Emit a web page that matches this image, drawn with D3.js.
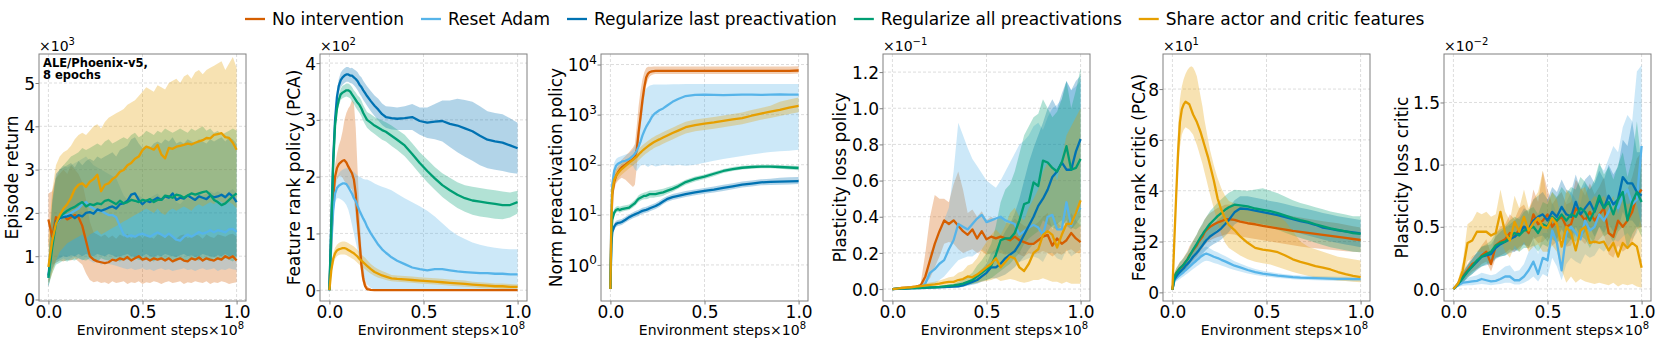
<!DOCTYPE html>
<html><head><meta charset="utf-8">
<script src="https://cdn.jsdelivr.net/npm/d3@7"></script>
<style>body{margin:0;background:#fff}text{font-family:"DejaVu Sans",sans-serif;fill:#000}</style>
</head><body><svg id="chart" width="1661" height="342"></svg>
<script>
const seriesNames=["No intervention","Reset Adam","Regularize last preactivation","Regularize all preactivations","Share actor and critic features"];
const seriesColors=["#d55e00","#56b4e9","#0072b2","#009e73","#e69f00"];
const yLabels=["Episode return","Feature rank policy (PCA)","Norm preactivation policy","Plasticity loss policy","Feature rank critic (PCA)","Plasticity loss critic"];
const xLabel="Environment steps";
const xTicks=[0,0.5,1.0];
const epTicks=[0,1,2,3,4,5];
const prTicks=[0,1,2,3,4];
const npTicks=[1,10,100,1000,10000];
const plTicks=[0,0.2,0.4,0.6,0.8,1.0,1.2];
const crTicks=[0,2,4,6,8];
const pcTicks=[0,0.5,1.0,1.5];

// Panel 1: Episode return (x10^3)
const epX=[0,0.02,0.04,0.06,0.08,0.1,0.12,0.14,0.16,0.18,0.2,0.22,0.24,0.26,0.28,0.3,0.32,0.34,0.36,0.38,0.4,0.42,0.44,0.46,0.48,0.5,0.52,0.54,0.56,0.58,0.6,0.62,0.64,0.66,0.68,0.7,0.72,0.74,0.76,0.78,0.8,0.82,0.84,0.86,0.88,0.9,0.92,0.94,0.96,0.98,1.0];
const epNoInt=[1.85,1.45,1.9,1.85,1.95,1.85,1.9,1.95,1.9,1.7,1.35,1.0,0.92,0.88,0.86,0.84,0.86,0.92,0.9,0.95,0.92,0.98,0.9,0.95,1.0,0.92,0.95,0.9,0.95,0.92,0.95,0.9,0.95,0.88,0.92,0.95,0.9,0.88,0.95,0.92,0.97,0.9,0.95,0.92,0.9,0.95,0.92,1.0,0.95,1.0,0.9];
const epNoIntLo=[1.3,0.8,0.85,0.9,0.88,0.92,0.9,0.95,0.88,0.8,0.6,0.45,0.4,0.42,0.38,0.4,0.36,0.42,0.38,0.4,0.42,0.36,0.4,0.38,0.42,0.36,0.4,0.38,0.42,0.4,0.36,0.4,0.42,0.38,0.4,0.42,0.36,0.4,0.38,0.42,0.4,0.38,0.42,0.36,0.4,0.38,0.42,0.4,0.36,0.38,0.4];
const epNoIntHi=[2.45,2.5,2.8,2.9,3.0,2.9,3.1,3.0,2.9,2.7,2.3,1.8,1.55,1.5,1.45,1.5,1.42,1.48,1.4,1.5,1.45,1.52,1.4,1.48,1.5,1.42,1.5,1.45,1.4,1.5,1.48,1.42,1.5,1.45,1.4,1.48,1.5,1.42,1.45,1.5,1.48,1.4,1.5,1.45,1.42,1.5,1.48,1.45,1.5,1.52,1.45];
const epReset=[0.5,1.3,1.75,1.85,1.95,1.95,2.0,2.05,2.1,2.2,2.25,2.15,2.1,2.05,2.05,2.0,1.95,1.95,1.9,1.7,1.5,1.45,1.48,1.45,1.5,1.52,1.48,1.45,1.5,1.55,1.5,1.45,1.52,1.45,1.38,1.36,1.45,1.5,1.45,1.5,1.56,1.52,1.55,1.6,1.55,1.6,1.58,1.55,1.62,1.63,1.56];
const epResetLo=[0.3,0.7,0.85,0.9,0.95,0.9,0.95,1.0,0.95,0.9,0.95,0.9,0.85,0.88,0.8,0.85,0.82,0.8,0.78,0.75,0.72,0.7,0.72,0.68,0.7,0.72,0.68,0.7,0.66,0.7,0.72,0.68,0.7,0.66,0.68,0.7,0.72,0.68,0.7,0.66,0.7,0.72,0.68,0.7,0.72,0.66,0.7,0.68,0.72,0.7,0.68];
const epResetHi=[0.9,2.2,2.9,3.0,3.1,3.05,3.1,3.15,3.2,3.25,3.3,3.2,3.1,3.05,3.0,2.95,2.9,2.85,2.8,2.6,2.4,2.3,2.35,2.3,2.4,2.35,2.3,2.35,2.4,2.45,2.35,2.3,2.4,2.35,2.25,2.2,2.3,2.35,2.3,2.4,2.45,2.4,2.45,2.5,2.45,2.5,2.45,2.4,2.5,2.55,2.45];
const epLast=[0.55,1.3,1.8,1.88,1.9,1.92,1.95,1.88,1.95,1.92,2.0,2.02,1.98,2.08,2.05,2.08,2.12,2.15,2.1,2.2,2.22,2.28,2.42,2.45,2.3,2.2,2.28,2.25,2.3,2.35,2.3,2.38,2.35,2.45,2.3,2.35,2.33,2.4,2.35,2.3,2.38,2.35,2.32,2.4,2.36,2.38,2.42,2.36,2.45,2.38,2.25];
const epLastLo=[0.3,0.7,0.9,0.95,1.0,0.98,1.02,1.0,1.05,1.0,1.05,1.02,1.0,1.05,1.02,1.0,1.05,1.02,0.98,1.0,1.02,1.05,1.0,0.98,1.02,1.0,1.05,1.0,0.98,1.02,1.0,1.05,1.02,1.0,0.98,1.02,1.05,1.0,1.02,0.98,1.0,1.05,1.02,1.0,0.98,1.02,1.0,1.05,1.0,1.02,1.0];
const epLastHi=[0.9,2.3,2.9,3.0,3.05,3.1,3.15,3.05,3.2,3.1,3.2,3.25,3.2,3.3,3.25,3.3,3.35,3.4,3.3,3.45,3.5,3.55,3.7,3.75,3.6,3.5,3.55,3.5,3.6,3.65,3.6,3.7,3.65,3.75,3.6,3.65,3.6,3.7,3.65,3.6,3.7,3.65,3.6,3.7,3.65,3.7,3.75,3.65,3.75,3.7,3.6];
const epAll=[0.5,1.2,1.75,1.9,1.98,2.05,2.1,2.14,2.2,2.25,2.15,2.2,2.18,2.22,2.2,2.28,2.3,2.25,2.2,2.28,2.22,2.25,2.3,2.28,2.25,2.3,2.28,2.32,2.25,2.3,2.3,2.4,2.38,2.35,2.42,2.4,2.35,2.4,2.45,2.42,2.45,2.48,2.5,2.42,2.3,2.25,2.18,2.22,2.3,2.38,2.45];
const epAllLo=[0.3,0.6,0.8,0.85,0.9,0.88,0.92,0.9,0.95,0.92,0.9,0.95,0.92,0.88,0.95,0.92,0.9,0.95,0.92,0.88,0.95,0.92,0.9,0.95,0.92,0.9,0.95,0.92,0.88,0.95,0.92,0.9,0.95,0.92,0.88,0.95,0.92,0.9,0.95,0.92,0.9,0.95,0.92,0.88,0.95,0.92,0.9,0.95,0.92,0.88,0.95];
const epAllHi=[0.9,2.2,2.8,3.0,3.1,3.2,3.3,3.35,3.4,3.5,3.45,3.5,3.55,3.6,3.55,3.65,3.7,3.6,3.65,3.7,3.75,3.7,3.8,3.85,3.75,3.8,3.9,3.85,3.8,3.9,3.85,3.95,3.9,3.85,3.9,3.95,3.9,3.85,3.95,3.9,3.95,4.0,3.9,3.95,3.85,3.9,3.8,3.85,3.9,3.95,3.9];
const epShare=[0.75,1.35,1.75,1.95,2.1,2.2,2.35,2.55,2.65,2.68,2.6,2.72,2.78,2.88,2.5,2.65,2.68,2.78,2.84,2.95,2.99,3.1,3.15,3.25,3.3,3.45,3.53,3.5,3.46,3.57,3.35,3.26,3.5,3.48,3.53,3.55,3.57,3.6,3.58,3.62,3.65,3.68,3.73,3.72,3.8,3.82,3.84,3.75,3.73,3.62,3.46];
const epShareLo=[0.35,0.6,0.9,1.1,1.2,1.3,1.35,1.4,1.45,1.5,1.4,1.5,1.55,1.6,1.5,1.55,1.6,1.65,1.7,1.75,1.8,1.85,1.9,1.95,2.0,2.05,2.1,2.05,2.0,2.1,2.0,1.95,2.05,2.1,2.05,2.1,2.15,2.1,2.05,2.15,2.2,2.15,2.2,2.25,2.2,2.3,2.25,2.2,2.25,2.2,2.1];
const epShareHi=[1.4,2.5,3.1,3.3,3.4,3.45,3.55,3.7,3.8,3.85,3.8,3.9,4.0,4.05,3.95,4.1,4.2,4.25,4.3,4.35,4.4,4.5,4.55,4.6,4.7,4.8,4.9,4.85,4.8,4.95,4.9,4.85,5.0,5.05,5.1,5.0,5.15,5.2,5.1,5.25,5.3,5.2,5.3,5.35,5.4,5.45,5.5,5.3,5.45,5.6,5.35];

// Panels 2 and 5 share this x grid
const rankX=[0,0.01,0.02,0.03,0.04,0.05,0.06,0.07,0.08,0.09,0.1,0.11,0.12,0.13,0.14,0.15,0.16,0.17,0.18,0.19,0.2,0.22,0.24,0.26,0.28,0.3,0.33,0.36,0.4,0.44,0.48,0.52,0.56,0.6,0.64,0.68,0.72,0.76,0.8,0.84,0.88,0.92,0.96,1.0];
// Panel 2: Feature rank policy (x10^2)
const prNoInt=[0,0.9,1.6,2.0,2.15,2.22,2.25,2.28,2.29,2.25,2.18,2.12,2.06,1.95,1.7,1.25,0.85,0.45,0.2,0.07,0.02,0.005,0,0,0,0,0,0,0,0,0,0,0,0,0,0,0,0,0,0,0,0,0,0];
const prNoIntLo=[0,0.8,1.45,1.8,1.95,2.0,2.02,1.98,1.92,1.88,1.84,1.8,1.78,1.6,1.3,0.95,0.55,0.25,0.1,0.03,0,0,0,0,0,0,0,0,0,0,0,0,0,0,0,0,0,0,0,0,0,0,0,0];
const prNoIntHi=[0,1.0,1.75,2.2,2.4,2.55,2.65,2.8,3.0,3.12,3.2,3.25,3.35,3.3,2.85,2.1,1.35,0.75,0.4,0.18,0.08,0.02,0,0,0,0,0,0,0,0,0,0,0,0,0,0,0,0,0,0,0,0,0,0];
const prReset=[0,0.8,1.4,1.7,1.8,1.84,1.86,1.88,1.88,1.87,1.82,1.76,1.7,1.62,1.57,1.48,1.4,1.33,1.26,1.2,1.12,1.0,0.9,0.8,0.72,0.66,0.58,0.52,0.46,0.4,0.37,0.35,0.37,0.37,0.35,0.33,0.32,0.31,0.3,0.3,0.29,0.29,0.28,0.28];
const prResetLo=[0,0.7,1.25,1.55,1.62,1.62,1.6,1.58,1.55,1.5,1.42,1.3,1.15,1.0,0.85,0.7,0.55,0.4,0.28,0.18,0.1,0.04,0.01,0,0,0,0,0,0,0,0,0,0,0,0,0,0,0,0,0,0,0,0,0];
const prResetHi=[0,0.9,1.55,1.85,1.98,2.05,2.1,2.12,2.14,2.15,2.15,2.12,2.1,2.08,2.05,2.02,2.0,1.98,1.96,1.95,1.95,1.92,1.88,1.85,1.82,1.8,1.76,1.7,1.62,1.55,1.48,1.4,1.3,1.18,1.06,0.97,0.9,0.84,0.8,0.77,0.75,0.73,0.72,0.72];
const prLast=[0,1.2,2.3,3.0,3.4,3.6,3.7,3.75,3.78,3.8,3.8,3.78,3.78,3.75,3.72,3.68,3.62,3.58,3.52,3.47,3.42,3.33,3.25,3.18,3.1,3.05,3.03,3.02,3.03,3.05,2.98,2.95,2.97,2.98,2.93,2.9,2.85,2.8,2.72,2.65,2.62,2.6,2.55,2.5];
const prLastLo=[0,1.1,2.2,2.88,3.28,3.48,3.57,3.62,3.65,3.67,3.67,3.65,3.64,3.61,3.57,3.52,3.46,3.41,3.35,3.3,3.25,3.15,3.07,2.99,2.91,2.86,2.83,2.82,2.82,2.82,2.74,2.68,2.66,2.62,2.52,2.43,2.35,2.28,2.2,2.15,2.12,2.1,2.07,2.05];
const prLastHi=[0,1.3,2.4,3.12,3.52,3.72,3.83,3.88,3.91,3.93,3.93,3.91,3.92,3.89,3.87,3.84,3.78,3.75,3.69,3.64,3.59,3.51,3.43,3.37,3.29,3.24,3.23,3.22,3.24,3.28,3.22,3.22,3.28,3.34,3.34,3.37,3.35,3.32,3.24,3.15,3.12,3.1,3.03,2.95];
const prAll=[0,1.1,2.2,2.9,3.2,3.35,3.45,3.48,3.5,3.52,3.52,3.5,3.45,3.4,3.35,3.3,3.26,3.2,3.12,3.06,3.0,2.95,2.9,2.86,2.82,2.79,2.72,2.65,2.55,2.4,2.24,2.1,1.97,1.85,1.76,1.68,1.62,1.58,1.56,1.54,1.52,1.5,1.5,1.55];
const prAllLo=[0,1.0,2.1,2.8,3.1,3.25,3.35,3.38,3.4,3.41,3.4,3.38,3.33,3.28,3.22,3.17,3.12,3.06,2.98,2.92,2.86,2.8,2.75,2.7,2.65,2.62,2.54,2.47,2.36,2.21,2.05,1.9,1.77,1.64,1.54,1.45,1.38,1.33,1.3,1.28,1.26,1.25,1.28,1.35];
const prAllHi=[0,1.2,2.3,3.0,3.3,3.45,3.55,3.6,3.62,3.64,3.64,3.62,3.58,3.52,3.48,3.43,3.4,3.34,3.26,3.2,3.14,3.1,3.05,3.02,2.99,2.96,2.9,2.83,2.74,2.59,2.43,2.3,2.17,2.06,1.98,1.9,1.85,1.82,1.8,1.78,1.76,1.74,1.72,1.75];
const prShare=[0,0.35,0.55,0.65,0.7,0.72,0.73,0.74,0.74,0.73,0.71,0.69,0.67,0.65,0.62,0.59,0.55,0.52,0.49,0.46,0.43,0.37,0.32,0.29,0.26,0.24,0.21,0.2,0.19,0.18,0.17,0.16,0.15,0.14,0.13,0.12,0.11,0.1,0.09,0.08,0.07,0.07,0.06,0.06];
const prShareLo=[0,0.28,0.45,0.55,0.6,0.62,0.63,0.63,0.63,0.62,0.6,0.58,0.56,0.54,0.51,0.48,0.45,0.42,0.39,0.37,0.34,0.29,0.25,0.22,0.2,0.18,0.16,0.15,0.14,0.13,0.12,0.11,0.1,0.09,0.08,0.07,0.06,0.05,0.04,0.03,0.03,0.02,0.02,0.02];
const prShareHi=[0,0.42,0.65,0.75,0.8,0.83,0.85,0.86,0.86,0.85,0.83,0.81,0.79,0.77,0.74,0.71,0.67,0.63,0.6,0.57,0.53,0.46,0.41,0.37,0.34,0.31,0.27,0.26,0.25,0.24,0.23,0.22,0.21,0.2,0.19,0.18,0.17,0.15,0.14,0.13,0.12,0.12,0.11,0.1];

// Panel 3: Norm preactivation policy (log)
const npX=[0,0.005,0.01,0.02,0.03,0.04,0.05,0.06,0.08,0.1,0.12,0.13,0.14,0.15,0.16,0.17,0.18,0.19,0.2,0.21,0.22,0.23,0.24,0.26,0.28,0.3,0.33,0.36,0.4,0.45,0.5,0.55,0.6,0.65,0.7,0.75,0.8,0.85,0.9,0.95,1.0];
const npNoInt=[0.33,6,25,45,60,70,80,88,100,115,130,145,200,450,900,1900,3500,5500,6600,7100,7300,7400,7500,7500,7500,7500,7500,7500,7500,7500,7500,7500,7500,7500,7500,7500,7500,7500,7500,7500,7600];
const npNoIntLo=[0.33,4,18,32,42,48,52,55,50,42,36,40,90,250,550,1100,2200,3800,5000,5800,6200,6400,6500,6500,6500,6500,6500,6500,6500,6500,6500,6500,6500,6500,6500,6500,6500,6500,6500,6500,6600];
const npNoIntHi=[0.33,10,35,60,80,95,110,125,150,180,220,260,600,1500,3000,5000,7000,8500,9000,9000,9000,9100,9100,9100,9100,9100,9100,9100,9100,9100,9100,9100,9100,9100,9100,9100,9100,9100,9100,9100,9200];
const npReset=[0.33,10,40,75,95,105,110,115,120,130,150,165,190,230,290,380,470,570,660,760,900,1000,1080,1220,1330,1500,1800,2050,2350,2480,2500,2480,2450,2470,2500,2500,2480,2500,2520,2500,2500];
const npResetLo=[0.33,6,25,50,70,80,85,90,95,100,95,80,75,85,95,100,100,95,90,95,100,95,92,95,100,100,95,100,95,100,110,120,130,140,150,160,170,180,185,190,200];
const npResetHi=[0.33,14,60,110,130,140,145,150,160,170,200,230,300,600,1200,2000,2800,3300,3600,3800,3900,4000,4000,4000,4000,4000,4050,4050,4100,4100,4100,4100,4100,4100,4100,4100,4100,4100,4100,4100,4100];
const npLast=[0.33,2.5,4.5,5.8,6.6,6.9,7,7.2,8,9,9.8,10.2,10.6,11,11.5,12,12.3,12.6,13,13.5,14,14.5,15,16.5,18.5,20.5,22.5,24,26,28,30,32,34.5,37,40,42,44.5,45.5,46,46.5,47];
const npLastLo=[0.33,2,3.8,5,5.7,6,6.1,6.3,7,7.8,8.5,8.8,9.2,9.5,10,10.4,10.7,11,11.3,11.8,12.2,12.6,13,14.4,16.2,18,19.8,21,22.8,24.5,26.2,28,30,32.5,35,36.8,38.8,39.5,40,40.5,41];
const npLastHi=[0.33,3,5.2,6.7,7.6,7.9,8.1,8.3,9.2,10.3,11.3,11.8,12.2,12.7,13.2,13.8,14.2,14.5,15,15.5,16.1,16.7,17.3,19,21.3,23.6,25.9,27.6,29.9,32.2,34.5,36.8,39.7,42.5,46,48.3,51.2,52.3,55,56,57];
const npAll=[0.33,4,8,11,12.5,13,12.5,13,13.5,14,16,17,19,21,22,23,24,24,25,26,26,26,26,27,28,30,33,37,45,52,58,66,75,82,87,90,92,92,90,88,86];
const npAllLo=[0.33,3,7,9.5,11,11.5,11,11.5,12,12.5,14,15,16.5,18,19,20,20.5,20.5,21,22,22,22,22.5,23,24,26,29,33,40,46,52,59,68,75,80,83,85,85,83,80,78];
const npAllHi=[0.33,5,9.5,13,14.5,15,14.5,15,15.5,16,18.5,20,22,24.5,26,27,28,28.5,29.5,30.5,30.5,30.5,31,32,33,35,38,42,50,58,64,72,82,90,95,98,100,100,98,96,94];
const npShare=[0.33,8,30,50,60,68,75,82,95,110,125,135,145,160,175,190,205,220,235,250,265,280,295,320,350,380,430,480,560,620,660,700,750,800,850,950,1050,1150,1250,1380,1500];
const npShareLo=[0.33,5,20,36,45,52,58,63,73,85,96,104,111,122,133,145,156,167,178,190,200,212,222,240,262,285,320,360,420,465,495,525,560,600,640,710,790,860,940,1030,1120];
const npShareHi=[0.33,12,42,68,80,88,96,105,122,140,160,172,185,205,225,245,262,282,300,320,340,358,378,410,450,490,550,620,720,800,850,900,960,1030,1100,1230,1360,1500,1800,2000,2200];

// Panels 4 and 6 share this x grid
const plX=[0,0.025,0.05,0.075,0.1,0.125,0.15,0.175,0.2,0.225,0.25,0.275,0.3,0.325,0.35,0.375,0.4,0.425,0.45,0.475,0.5,0.525,0.55,0.575,0.6,0.625,0.65,0.675,0.7,0.725,0.75,0.775,0.8,0.825,0.85,0.875,0.9,0.925,0.95,0.975,1.0];
// Panel 4: Plasticity loss policy (x10^-1)
const plNoInt=[0,0.003,0.006,0.008,0.01,0.014,0.02,0.07,0.16,0.25,0.32,0.38,0.36,0.38,0.35,0.32,0.3,0.33,0.28,0.32,0.275,0.29,0.28,0.29,0.28,0.27,0.29,0.27,0.26,0.25,0.25,0.27,0.29,0.3,0.24,0.28,0.25,0.27,0.31,0.28,0.26];
const plNoIntLo=[0,0.002,0.004,0.005,0.007,0.01,0.013,0.03,0.06,0.12,0.18,0.25,0.26,0.25,0.22,0.2,0.21,0.22,0.2,0.21,0.19,0.2,0.21,0.2,0.19,0.2,0.21,0.19,0.18,0.2,0.19,0.2,0.21,0.2,0.18,0.2,0.19,0.21,0.22,0.2,0.2];
const plNoIntHi=[0,0.005,0.008,0.011,0.014,0.018,0.03,0.2,0.4,0.52,0.5,0.5,0.48,0.58,0.65,0.55,0.42,0.44,0.4,0.43,0.38,0.4,0.38,0.4,0.37,0.36,0.39,0.37,0.35,0.34,0.35,0.37,0.4,0.42,0.33,0.37,0.34,0.36,0.42,0.38,0.35];
const plReset=[0,0.002,0.004,0.006,0.008,0.01,0.012,0.03,0.09,0.11,0.14,0.16,0.22,0.27,0.36,0.345,0.33,0.36,0.39,0.41,0.37,0.38,0.39,0.4,0.38,0.37,0.36,0.3,0.32,0.34,0.355,0.34,0.3,0.4,0.41,0.33,0.33,0.48,0.35,0.42,0.45];
const plResetLo=[0,0.001,0.002,0.003,0.004,0.005,0.006,0.01,0.02,0.03,0.05,0.07,0.1,0.13,0.16,0.17,0.18,0.18,0.2,0.22,0.2,0.19,0.2,0.22,0.2,0.18,0.17,0.15,0.16,0.17,0.18,0.17,0.15,0.2,0.2,0.17,0.16,0.22,0.18,0.2,0.22];
const plResetHi=[0,0.003,0.006,0.009,0.012,0.015,0.02,0.06,0.2,0.25,0.3,0.38,0.45,0.65,0.92,0.85,0.78,0.72,0.68,0.64,0.6,0.58,0.56,0.6,0.65,0.7,0.75,0.8,0.82,0.85,0.9,0.92,0.88,0.95,1.0,1.02,1.05,1.15,1.1,1.12,1.15];
const plLast=[0,0.001,0.002,0.003,0.004,0.005,0.006,0.007,0.008,0.009,0.01,0.011,0.012,0.013,0.015,0.02,0.03,0.04,0.05,0.07,0.09,0.12,0.12,0.14,0.17,0.19,0.21,0.25,0.3,0.35,0.4,0.46,0.5,0.55,0.62,0.65,0.7,0.66,0.66,0.76,0.83];
const plLastLo=[0,0.0005,0.001,0.002,0.002,0.003,0.004,0.004,0.005,0.005,0.006,0.007,0.007,0.008,0.009,0.012,0.018,0.024,0.03,0.04,0.05,0.06,0.06,0.07,0.08,0.1,0.12,0.15,0.18,0.22,0.25,0.28,0.3,0.32,0.35,0.36,0.38,0.35,0.33,0.36,0.4];
const plLastHi=[0,0.002,0.003,0.004,0.006,0.007,0.008,0.01,0.011,0.013,0.014,0.015,0.017,0.019,0.022,0.03,0.045,0.06,0.08,0.11,0.14,0.2,0.22,0.27,0.32,0.36,0.42,0.5,0.6,0.7,0.78,0.85,0.92,1.0,1.05,1.0,1.08,1.15,1.1,1.15,1.18];
const plAll=[0,0.002,0.003,0.004,0.005,0.006,0.007,0.008,0.009,0.01,0.012,0.015,0.018,0.02,0.025,0.03,0.04,0.05,0.07,0.09,0.11,0.13,0.19,0.27,0.28,0.28,0.31,0.38,0.47,0.48,0.59,0.57,0.71,0.7,0.67,0.65,0.7,0.79,0.66,0.67,0.72];
const plAllLo=[0,0.001,0.002,0.003,0.003,0.004,0.005,0.005,0.006,0.007,0.008,0.01,0.012,0.013,0.015,0.018,0.022,0.028,0.035,0.045,0.05,0.06,0.08,0.1,0.12,0.14,0.17,0.2,0.25,0.28,0.3,0.32,0.38,0.36,0.34,0.33,0.35,0.38,0.34,0.33,0.35];
const plAllHi=[0,0.003,0.004,0.005,0.007,0.008,0.009,0.011,0.012,0.014,0.016,0.02,0.025,0.03,0.04,0.05,0.07,0.09,0.13,0.16,0.2,0.25,0.35,0.48,0.55,0.58,0.65,0.75,0.85,0.9,0.95,0.97,1.05,1.0,0.95,0.98,1.05,1.15,1.0,1.1,1.22];
const plShare=[0,0.003,0.006,0.008,0.01,0.013,0.016,0.02,0.023,0.026,0.03,0.035,0.04,0.04,0.05,0.055,0.07,0.065,0.08,0.1,0.12,0.14,0.17,0.12,0.15,0.18,0.17,0.12,0.1,0.14,0.2,0.22,0.3,0.32,0.3,0.23,0.3,0.36,0.36,0.42,0.49];
const plShareLo=[0,0.001,0.002,0.003,0.004,0.005,0.006,0.008,0.01,0.012,0.014,0.016,0.018,0.02,0.022,0.025,0.03,0.03,0.035,0.04,0.045,0.05,0.06,0.045,0.05,0.055,0.05,0.04,0.035,0.04,0.05,0.05,0.06,0.05,0.04,0.04,0.03,0.04,0.03,0.03,0.03];
const plShareHi=[0,0.005,0.01,0.013,0.016,0.02,0.026,0.032,0.036,0.04,0.048,0.055,0.065,0.07,0.09,0.1,0.13,0.14,0.17,0.22,0.26,0.3,0.33,0.3,0.35,0.42,0.45,0.4,0.38,0.45,0.5,0.55,0.65,0.7,0.68,0.6,0.72,0.85,0.9,0.95,1.0];

// Panel 5: Feature rank critic (x10^1)
const crNoInt=[0.1,0.6,0.75,0.85,0.95,1.0,1.1,1.2,1.3,1.45,1.55,1.65,1.75,1.85,2.0,2.1,2.2,2.35,2.45,2.52,2.58,2.67,2.75,2.8,2.87,2.88,2.85,2.78,2.72,2.68,2.62,2.57,2.52,2.47,2.42,2.38,2.34,2.3,2.26,2.22,2.18,2.14,2.1,2.06];
const crNoIntLo=[0.1,0.45,0.55,0.62,0.7,0.75,0.82,0.9,0.98,1.1,1.18,1.26,1.34,1.42,1.55,1.63,1.72,1.85,1.93,2.0,2.05,2.12,2.18,2.22,2.28,2.3,2.28,2.2,2.15,2.1,2.05,2.0,1.95,1.9,1.85,1.8,1.77,1.74,1.71,1.68,1.65,1.62,1.6,1.58];
const crNoIntHi=[0.1,0.75,0.95,1.08,1.2,1.27,1.38,1.5,1.62,1.8,1.92,2.04,2.16,2.28,2.45,2.57,2.68,2.85,2.97,3.05,3.12,3.22,3.32,3.38,3.45,3.46,3.42,3.36,3.3,3.26,3.2,3.14,3.1,3.05,3.0,2.95,2.9,2.85,2.8,2.76,2.72,2.66,2.6,2.55];
const crReset=[0.1,0.45,0.55,0.62,0.68,0.74,0.8,0.87,0.93,1.0,1.07,1.14,1.2,1.27,1.33,1.4,1.45,1.5,1.52,1.5,1.47,1.4,1.35,1.28,1.22,1.15,1.05,0.98,0.88,0.8,0.74,0.7,0.66,0.63,0.6,0.58,0.57,0.56,0.55,0.54,0.53,0.53,0.52,0.52];
const crResetLo=[0.1,0.35,0.43,0.48,0.53,0.58,0.63,0.69,0.74,0.8,0.86,0.92,0.97,1.03,1.08,1.14,1.18,1.22,1.24,1.23,1.21,1.16,1.12,1.06,1.01,0.95,0.88,0.82,0.74,0.68,0.63,0.6,0.57,0.55,0.52,0.5,0.49,0.48,0.47,0.46,0.45,0.45,0.44,0.44];
const crResetHi=[0.1,0.55,0.67,0.76,0.83,0.9,0.97,1.05,1.12,1.2,1.28,1.36,1.43,1.51,1.58,1.66,1.72,1.78,1.8,1.77,1.73,1.64,1.58,1.5,1.43,1.35,1.22,1.14,1.02,0.92,0.85,0.8,0.75,0.71,0.68,0.66,0.65,0.64,0.63,0.62,0.61,0.61,0.6,0.6];
const crLast=[0.1,0.5,0.62,0.72,0.8,0.88,0.95,1.05,1.12,1.2,1.3,1.4,1.48,1.56,1.65,1.75,1.85,1.95,2.05,2.12,2.2,2.3,2.4,2.52,2.68,2.85,3.15,3.3,3.28,3.22,3.16,3.1,3.04,2.96,2.88,2.8,2.74,2.66,2.55,2.5,2.44,2.4,2.36,2.32];
const crLastLo=[0.1,0.4,0.5,0.58,0.65,0.72,0.78,0.86,0.92,0.98,1.06,1.14,1.2,1.27,1.35,1.43,1.52,1.6,1.68,1.74,1.8,1.9,1.98,2.08,2.22,2.38,2.67,2.82,2.8,2.74,2.68,2.62,2.56,2.48,2.4,2.32,2.24,2.16,2.08,2.0,1.94,1.88,1.83,1.78];
const crLastHi=[0.1,0.6,0.75,0.86,0.96,1.05,1.13,1.25,1.33,1.42,1.54,1.66,1.76,1.85,1.96,2.07,2.18,2.3,2.42,2.5,2.6,2.72,2.84,2.97,3.15,3.33,3.62,3.78,3.78,3.72,3.66,3.6,3.55,3.48,3.4,3.33,3.27,3.2,3.12,3.06,3.0,2.95,2.9,2.85];
const crAll=[0.1,0.6,0.75,0.85,0.95,1.02,1.1,1.2,1.3,1.42,1.55,1.68,1.8,1.92,2.05,2.17,2.28,2.4,2.5,2.6,2.7,2.85,3.0,3.12,3.25,3.35,3.45,3.42,3.38,3.3,3.25,3.2,3.12,3.02,2.92,2.84,2.77,2.68,2.6,2.52,2.46,2.4,2.33,2.3];
const crAllLo=[0.1,0.45,0.57,0.65,0.72,0.78,0.85,0.93,1.02,1.12,1.23,1.34,1.44,1.54,1.65,1.75,1.84,1.94,2.03,2.12,2.2,2.34,2.47,2.58,2.7,2.78,2.86,2.82,2.76,2.68,2.62,2.55,2.46,2.35,2.24,2.14,2.05,1.95,1.86,1.78,1.72,1.66,1.6,1.58];
const crAllHi=[0.1,0.75,0.93,1.05,1.18,1.26,1.35,1.47,1.58,1.72,1.87,2.02,2.16,2.3,2.45,2.59,2.72,2.86,2.97,3.08,3.2,3.36,3.53,3.66,3.8,3.92,4.04,4.02,4.0,4.05,4.1,4.0,3.9,3.76,3.62,3.52,3.44,3.35,3.27,3.18,3.12,3.06,3.0,3.0];
const crShare=[0.1,2.0,3.8,5.5,6.7,7.2,7.4,7.5,7.45,7.4,7.2,7.0,6.85,6.7,6.5,6.3,6.05,5.8,5.55,5.3,5.0,4.4,3.7,3.25,2.9,2.65,2.45,2.2,1.95,1.75,1.68,1.64,1.58,1.45,1.3,1.2,1.12,1.03,0.97,0.9,0.8,0.72,0.65,0.6];
const crShareLo=[0.1,1.5,3.3,4.8,5.7,6.2,6.4,6.5,6.45,6.4,6.3,6.2,6.0,5.8,5.55,5.3,5.05,4.75,4.45,4.15,3.85,3.3,2.75,2.3,1.95,1.75,1.6,1.45,1.3,1.2,1.15,1.1,1.0,0.9,0.8,0.72,0.65,0.58,0.53,0.5,0.47,0.45,0.42,0.4];
const crShareHi=[0.1,2.1,4.5,6.5,7.6,8.1,8.4,8.6,8.75,8.85,8.9,8.85,8.7,8.5,8.1,7.7,7.3,6.8,6.4,6.0,5.6,5.0,4.5,4.1,3.8,3.6,3.5,3.4,3.35,3.3,3.2,3.1,3.0,2.8,2.4,2.0,1.8,1.7,1.6,1.5,1.4,1.35,1.3,1.25];

// Panel 6: Plasticity loss critic (x10^-2)
const pcNoInt=[0,0.04,0.1,0.15,0.2,0.22,0.27,0.3,0.2,0.35,0.38,0.4,0.45,0.42,0.48,0.5,0.45,0.6,0.52,0.55,0.6,0.5,0.55,0.58,0.5,0.52,0.65,0.6,0.55,0.62,0.55,0.6,0.65,0.45,0.42,0.55,0.5,0.55,0.62,0.75,0.8];
const pcNoIntLo=[0,0.02,0.06,0.1,0.14,0.16,0.2,0.22,0.14,0.25,0.27,0.29,0.32,0.3,0.34,0.36,0.32,0.42,0.37,0.38,0.42,0.35,0.38,0.4,0.34,0.35,0.45,0.4,0.36,0.42,0.36,0.4,0.44,0.28,0.25,0.35,0.3,0.33,0.38,0.48,0.5];
const pcNoIntHi=[0,0.06,0.14,0.2,0.26,0.29,0.35,0.4,0.28,0.45,0.5,0.52,0.6,0.56,0.65,0.68,0.6,0.8,0.7,0.95,0.8,0.68,0.74,0.78,0.68,0.7,0.88,0.82,0.75,0.85,0.76,0.82,0.9,0.65,0.62,0.78,0.72,0.8,0.9,1.05,1.1];
const pcReset=[0,0.03,0.05,0.055,0.06,0.065,0.08,0.07,0.06,0.065,0.08,0.1,0.1,0.07,0.07,0.1,0.15,0.22,0.12,0.25,0.23,0.47,0.37,0.15,0.45,0.5,0.45,0.4,0.55,0.47,0.5,0.6,0.55,0.62,0.7,0.65,0.75,0.8,0.68,0.72,1.15];
const pcResetLo=[0,0.015,0.025,0.03,0.03,0.035,0.04,0.035,0.03,0.035,0.04,0.05,0.05,0.035,0.035,0.05,0.07,0.1,0.06,0.12,0.1,0.25,0.18,0.07,0.2,0.25,0.22,0.2,0.28,0.25,0.27,0.33,0.3,0.35,0.4,0.38,0.42,0.45,0.4,0.45,0.6];
const pcResetHi=[0,0.05,0.08,0.09,0.1,0.11,0.13,0.12,0.11,0.12,0.15,0.18,0.19,0.14,0.15,0.2,0.3,0.4,0.28,0.45,0.45,0.7,0.6,0.35,0.7,0.78,0.72,0.68,0.85,0.8,0.85,1.0,0.95,1.05,1.15,1.1,1.3,1.4,1.35,1.75,1.8];
const pcLast=[0,0.04,0.09,0.14,0.18,0.22,0.26,0.27,0.28,0.33,0.36,0.38,0.4,0.42,0.45,0.5,0.48,0.55,0.58,0.6,0.55,0.62,0.58,0.66,0.6,0.58,0.7,0.6,0.65,0.7,0.62,0.72,0.65,0.75,0.68,0.72,0.9,0.85,0.85,0.78,0.75];
const pcLastLo=[0,0.02,0.05,0.09,0.12,0.15,0.18,0.19,0.2,0.24,0.26,0.27,0.29,0.3,0.32,0.36,0.34,0.4,0.42,0.43,0.38,0.45,0.4,0.48,0.42,0.4,0.5,0.42,0.46,0.5,0.42,0.5,0.45,0.52,0.46,0.48,0.62,0.55,0.55,0.5,0.5];
const pcLastHi=[0,0.06,0.13,0.19,0.24,0.29,0.34,0.35,0.36,0.42,0.46,0.49,0.52,0.55,0.58,0.65,0.62,0.72,0.75,0.78,0.72,0.82,0.78,0.88,0.8,0.78,0.92,0.8,0.88,0.92,0.85,0.95,0.88,1.0,0.92,0.98,1.2,1.15,1.35,1.1,1.1];
const pcAll=[0,0.04,0.09,0.14,0.18,0.23,0.26,0.28,0.3,0.35,0.37,0.38,0.42,0.45,0.43,0.47,0.48,0.5,0.45,0.52,0.5,0.58,0.55,0.6,0.55,0.6,0.58,0.65,0.62,0.55,0.63,0.75,0.65,0.7,0.6,0.72,0.78,0.55,0.7,0.78,0.7];
const pcAllLo=[0,0.02,0.05,0.09,0.12,0.16,0.18,0.2,0.21,0.25,0.26,0.27,0.3,0.32,0.3,0.33,0.33,0.35,0.3,0.36,0.34,0.4,0.37,0.4,0.35,0.4,0.38,0.43,0.4,0.33,0.4,0.5,0.42,0.45,0.37,0.46,0.5,0.32,0.44,0.5,0.42];
const pcAllHi=[0,0.06,0.13,0.19,0.24,0.3,0.34,0.36,0.39,0.45,0.48,0.5,0.55,0.58,0.56,0.62,0.64,0.66,0.6,0.7,0.68,0.78,0.74,0.82,0.77,0.82,0.8,0.9,0.86,0.8,0.88,1.02,0.92,0.98,0.88,1.0,1.1,0.9,1.05,1.35,1.0];
const pcShare=[0,0.045,0.15,0.37,0.39,0.46,0.46,0.46,0.43,0.45,0.62,0.45,0.39,0.54,0.46,0.58,0.47,0.53,0.57,0.5,0.49,0.57,0.52,0.34,0.5,0.45,0.31,0.47,0.5,0.37,0.38,0.37,0.38,0.31,0.37,0.26,0.37,0.33,0.37,0.34,0.17];
const pcShareLo=[0,0.02,0.08,0.22,0.25,0.3,0.3,0.3,0.28,0.3,0.4,0.3,0.25,0.35,0.3,0.38,0.3,0.34,0.36,0.3,0.3,0.35,0.3,0.15,0.05,0.1,0.05,0.08,0.06,0.05,0.04,0.05,0.04,0.03,0.05,0.02,0.04,0.03,0.04,0.02,0.01];
const pcShareHi=[0,0.07,0.22,0.52,0.55,0.62,0.6,0.62,0.58,0.6,0.8,0.62,0.55,0.75,0.65,0.8,0.65,0.72,0.78,0.95,0.7,0.78,0.72,0.55,0.8,0.75,0.6,0.8,0.82,0.7,0.75,0.72,0.75,0.68,0.75,0.6,0.72,0.68,0.7,0.68,0.5];

// ---------- layout ----------
const svg=d3.select("#chart");
const W=207, TOP=54, BOT=301;
const lefts=[39,320,601,883,1163,1444];
const ylabX=[12,294,555.5,840,1138.5,1401.5];
const f1=d3.format(".1f"), fd=d3.format("d");
const panels=[
 {x:epX,data:[[epNoInt,epNoIntLo,epNoIntHi],[epReset,epResetLo,epResetHi],[epLast,epLastLo,epLastHi],[epAll,epAllLo,epAllHi],[epShare,epShareLo,epShareHi]],ticks:epTicks,fmt:fd,dom:[-0.035,5.67],exp:"3"},
 {x:rankX,data:[[prNoInt,prNoIntLo,prNoIntHi],[prReset,prResetLo,prResetHi],[prLast,prLastLo,prLastHi],[prAll,prAllLo,prAllHi],[prShare,prShareLo,prShareHi]],ticks:prTicks,fmt:fd,dom:[-0.19,4.16],exp:"2"},
 {x:npX,data:[[npNoInt,npNoIntLo,npNoIntHi],[npReset,npResetLo,npResetHi],[npLast,npLastLo,npLastHi],[npAll,npAllLo,npAllHi],[npShare,npShareLo,npShareHi]],ticks:npTicks,fmt:null,dom:[Math.pow(10,-0.72),Math.pow(10,4.21)],exp:null,log:true},
 {x:plX,data:[[plNoInt,plNoIntLo,plNoIntHi],[plReset,plResetLo,plResetHi],[plLast,plLastLo,plLastHi],[plAll,plAllLo,plAllHi],[plShare,plShareLo,plShareHi]],ticks:plTicks,fmt:f1,dom:[-0.066,1.30],exp:"\u22121"},
 {x:rankX,data:[[crNoInt,crNoIntLo,crNoIntHi],[crReset,crResetLo,crResetHi],[crLast,crLastLo,crLastHi],[crAll,crAllLo,crAllHi],[crShare,crShareLo,crShareHi]],ticks:crTicks,fmt:fd,dom:[-0.34,9.38],exp:"1"},
 {x:plX,data:[[pcNoInt,pcNoIntLo,pcNoIntHi],[pcReset,pcResetLo,pcResetHi],[pcLast,pcLastLo,pcLastHi],[pcAll,pcAllLo,pcAllHi],[pcShare,pcShareLo,pcShareHi]],ticks:pcTicks,fmt:f1,dom:[-0.097,1.89],exp:"\u22122"}
];
const bad=[];
panels.forEach((p,i)=>p.data.forEach((s,k)=>s.forEach((a,q)=>{if(a.length!==p.x.length)bad.push(`p${i} s${k} a${q}: ${a.length} vs ${p.x.length}`);})));
if(bad.length) throw new Error("Length mismatch: "+bad.join("; "));

const GRID="#b0b0b0", SPINE="#808080";
panels.forEach((p,i)=>{
  const L=lefts[i];
  const g=svg.append("g");
  const x=d3.scaleLinear().domain([-0.05,1.05]).range([L,L+W]);
  const y=(p.log?d3.scaleLog():d3.scaleLinear()).domain(p.dom).range([BOT,TOP]);
  svg.append("clipPath").attr("id","clip"+i).append("rect").attr("x",L).attr("y",TOP).attr("width",W).attr("height",BOT-TOP);
  const grid=g.append("g").attr("stroke",GRID).attr("stroke-width",0.8).attr("stroke-opacity",0.55).attr("stroke-dasharray","3,2");
  xTicks.forEach(t=>grid.append("line").attr("x1",x(t)).attr("x2",x(t)).attr("y1",TOP).attr("y2",BOT));
  p.ticks.forEach(t=>grid.append("line").attr("x1",L).attr("x2",L+W).attr("y1",y(t)).attr("y2",y(t)));
  const plot=g.append("g").attr("clip-path",`url(#clip${i})`);
  p.data.forEach((s,k)=>{
    const [m,lo,hi]=s;
    const area=d3.area().x((d,j)=>x(p.x[j])).y0((d,j)=>y(lo[j])).y1((d,j)=>y(hi[j]));
    plot.append("path").datum(m).attr("d",area).attr("fill",seriesColors[k]).attr("fill-opacity",0.3).attr("stroke","none");
  });
  p.data.forEach((s,k)=>{
    const m=s[0];
    const line=d3.line().x((d,j)=>x(p.x[j])).y(d=>y(d));
    plot.append("path").datum(m).attr("d",line).attr("fill","none").attr("stroke",seriesColors[k]).attr("stroke-width",2.3).attr("stroke-linejoin","round");
  });
  g.append("rect").attr("x",L).attr("y",TOP).attr("width",W).attr("height",BOT-TOP).attr("fill","none").attr("stroke",SPINE).attr("stroke-width",1);
  const ya=g.append("g").attr("transform",`translate(${L},0)`).call(d3.axisLeft(y).tickValues(p.ticks).tickSize(3.5).tickPadding(0.5).tickFormat(p.fmt?p.fmt:(()=>"")));
  ya.select(".domain").remove();
  ya.selectAll(".tick line").attr("stroke",SPINE);
  ya.selectAll(".tick text").attr("font-size",17).attr("font-family","DejaVu Sans").attr("fill","#000").attr("dy","0.36em");
  if(p.log){
    ya.selectAll(".tick text").each(function(d){
      const t=d3.select(this); t.text(null);
      t.append("tspan").text("10");
      t.append("tspan").attr("font-size",12).attr("dy","-0.6em").text(String(Math.round(Math.log10(d))));
    });
  }
  const xa=g.append("g").attr("transform",`translate(0,${BOT})`).call(d3.axisBottom(x).tickValues(xTicks).tickSize(3.5).tickFormat(f1));
  xa.select(".domain").remove();
  xa.selectAll(".tick line").attr("stroke",SPINE);
  xa.selectAll(".tick text").attr("font-size",17).attr("font-family","DejaVu Sans").attr("fill","#000").attr("y",16.5).attr("dy",null);
  g.append("text").attr("transform",`translate(${ylabX[i]},${(TOP+BOT)/2}) rotate(-90)`).attr("text-anchor","middle").attr("dy","0.36em").attr("font-size",17).text(yLabels[i]);
  g.append("text").attr("x",L+W/2).attr("y",335).attr("text-anchor","middle").attr("font-size",14).text(xLabel);
  const xo=g.append("text").attr("x",L+W-2).attr("y",335).attr("text-anchor","end").attr("font-size",14);
  xo.append("tspan").text("\u00d710");
  xo.append("tspan").attr("font-size",10).attr("dy","-0.65em").text("8");
  if(p.exp){
    const yo=g.append("text").attr("x",L).attr("y",51).attr("font-size",14);
    yo.append("tspan").text("\u00d710");
    yo.append("tspan").attr("font-size",10).attr("dy","-0.65em").text(p.exp);
  }
  if(i===0){
    g.append("text").attr("x",43).attr("y",67).attr("font-size",11.5).attr("font-weight","bold").text("ALE/Phoenix-v5,");
    g.append("text").attr("x",43).attr("y",79).attr("font-size",11.5).attr("font-weight","bold").text("8 epochs");
  }
});

const lg=svg.append("g");
let lx=245;
seriesNames.forEach((n,k)=>{
  lg.append("line").attr("x1",lx).attr("x2",lx+20).attr("y1",19).attr("y2",19).attr("stroke",seriesColors[k]).attr("stroke-width",2.3);
  const t=lg.append("text").attr("x",lx+27).attr("y",19).attr("dy","0.36em").attr("font-size",17).text(n);
  lx=lx+27+t.node().getComputedTextLength()+17;
});
</script></body></html>
